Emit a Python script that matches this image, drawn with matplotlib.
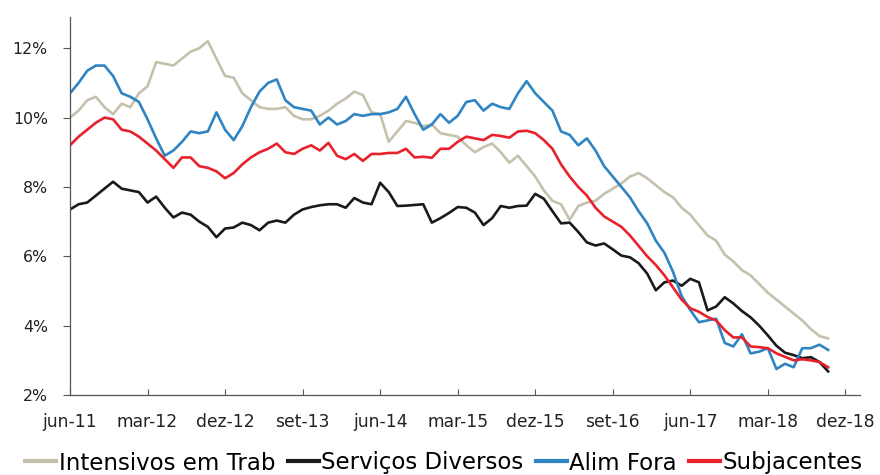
import matplotlib
matplotlib.use("Agg")
import matplotlib.pyplot as plt
import numpy as np

tick_labels = ["jun-11", "mar-12", "dez-12", "set-13", "jun-14", "mar-15",
               "dez-15", "set-16", "jun-17", "mar-18", "dez-18"]

intensivos = [10.0, 10.2, 10.5, 10.6, 10.3, 10.1, 10.4, 10.3, 10.7, 10.9,
              11.6, 11.55, 11.5, 11.7, 11.9, 12.0, 12.2, 11.7, 11.2, 11.15,
              10.7, 10.5, 10.3, 10.25, 10.25, 10.3, 10.05, 9.95, 9.95, 10.05,
              10.2, 10.4, 10.55, 10.75, 10.65, 10.15, 10.1, 9.3, 9.6, 9.9,
              9.85, 9.75, 9.8, 9.55, 9.5, 9.45, 9.2, 9.0, 9.15, 9.25,
              9.0, 8.7, 8.9, 8.6, 8.3, 7.9, 7.6, 7.5, 7.05, 7.45,
              7.55, 7.6, 7.8, 7.95, 8.1, 8.3, 8.4, 8.25, 8.05, 7.85,
              7.7, 7.4, 7.2, 6.9, 6.6, 6.45, 6.05, 5.85, 5.6, 5.45,
              5.2, 4.95, 4.75, 4.55, 4.35, 4.15, 3.9, 3.7, 3.63]

servicos = [7.35, 7.5, 7.55, 7.75, 7.95, 8.15, 7.95, 7.9, 7.85, 7.55,
            7.72, 7.4, 7.12, 7.26, 7.2, 7.0, 6.85, 6.55, 6.8, 6.83,
            6.97, 6.9, 6.75, 6.97, 7.03, 6.97, 7.2, 7.35, 7.42, 7.47,
            7.5, 7.5, 7.4, 7.68, 7.55, 7.5, 8.12, 7.85, 7.45, 7.46,
            7.48, 7.5, 6.97, 7.1, 7.25, 7.42, 7.4, 7.26, 6.9, 7.1,
            7.45, 7.4, 7.45, 7.46, 7.8, 7.66, 7.3, 6.95, 6.97, 6.7,
            6.4, 6.31, 6.37, 6.2, 6.02, 5.97, 5.8, 5.5, 5.02, 5.25,
            5.3, 5.15, 5.35, 5.25, 4.44, 4.55, 4.82, 4.64, 4.42, 4.24,
            4.0, 3.72, 3.42, 3.22, 3.15, 3.06, 3.09, 2.95, 2.68]

alim_fora = [10.7, 11.0, 11.35, 11.5, 11.5, 11.2, 10.7, 10.6, 10.45, 9.95,
             9.4, 8.9, 9.05, 9.3, 9.6, 9.55, 9.6, 10.15, 9.65, 9.35,
             9.75, 10.3, 10.75, 11.0, 11.1, 10.5, 10.3, 10.25, 10.2, 9.8,
             10.0, 9.8, 9.9, 10.1, 10.05, 10.1, 10.1, 10.15, 10.25, 10.6,
             10.1, 9.65, 9.8, 10.1, 9.85, 10.05, 10.45, 10.5, 10.2, 10.4,
             10.3, 10.25, 10.7, 11.05, 10.7, 10.45, 10.2, 9.6, 9.5, 9.2,
             9.4, 9.05, 8.6, 8.3, 8.0, 7.7, 7.3, 6.95, 6.45, 6.1,
             5.55, 4.85, 4.45, 4.1, 4.15, 4.2, 3.5, 3.4, 3.75, 3.2,
             3.25, 3.35, 2.75, 2.9, 2.8, 3.35, 3.35, 3.45, 3.3]

subjacentes = [9.2, 9.45, 9.65, 9.85, 10.0, 9.95, 9.65, 9.6, 9.45, 9.25,
               9.05, 8.8, 8.55, 8.85, 8.85, 8.6, 8.55, 8.45, 8.25, 8.4,
               8.65, 8.85, 9.0, 9.1, 9.25, 9.0, 8.95, 9.1, 9.2, 9.05,
               9.27, 8.9, 8.8, 8.95, 8.75, 8.95, 8.95, 8.98, 8.98, 9.1,
               8.85, 8.87, 8.84, 9.1, 9.1, 9.3, 9.45, 9.4, 9.35, 9.5,
               9.47, 9.42, 9.6, 9.62, 9.55, 9.35, 9.1, 8.65, 8.3, 8.0,
               7.75, 7.4, 7.15, 7.0, 6.85, 6.6, 6.3, 6.0, 5.75, 5.45,
               5.1, 4.75, 4.5, 4.4, 4.25, 4.15, 3.87, 3.66, 3.66, 3.4,
               3.38, 3.35, 3.2, 3.1, 3.0, 3.03, 3.0, 2.95, 2.8]

series_names = ["Intensivos em Trab", "Serviços Diversos", "Alim Fora", "Subjacentes"]
series_colors = ["#C5C1AD", "#1A1A1A", "#2F84C2", "#E8212B"]
y_ticks = [2, 4, 6, 8, 10, 12]

plt.rcParams['font.family'] = ['DejaVu Sans']

fig = plt.figure(figsize=(8.8, 4.75), dpi=100)
ax = fig.add_axes([70/880, 80/475, 790/880, 378/475])

months = np.arange(len(intensivos))
for vals, name, col in zip([intensivos, servicos, alim_fora, subjacentes],
                           series_names, series_colors):
    ax.plot(months, vals, color=col, lw=1.9, label=name, solid_joinstyle='round')

ax.set_xlim(0, 91.7)
ax.set_ylim(2, 12.9)
ax.set_xticks(np.arange(0, 91, 9))
ax.set_xticklabels(tick_labels, fontsize=12.3, color="#222222")
ax.set_yticks(y_ticks)
ax.set_yticklabels([f"{v}%" for v in y_ticks], fontsize=11.3, color="#222222")
ax.tick_params(axis='x', direction='in', length=4, width=0.8, color="#555555", pad=13)
ax.tick_params(axis='y', direction='out', length=5, width=0.8, color="#555555", pad=11)
for s in ['top', 'right']:
    ax.spines[s].set_visible(False)
for s in ['left', 'bottom']:
    ax.spines[s].set_color("#555555")
    ax.spines[s].set_linewidth(0.9)

leg = fig.legend(loc='center', bbox_to_anchor=(444/880, 1 - 463/475), ncol=4,
                 frameon=False, fontsize=16.5, handlelength=1.35, handletextpad=0.1,
                 columnspacing=0.55)
for h in leg.get_lines():
    h.set_linewidth(3)

fig.savefig("out.png", dpi=100)
